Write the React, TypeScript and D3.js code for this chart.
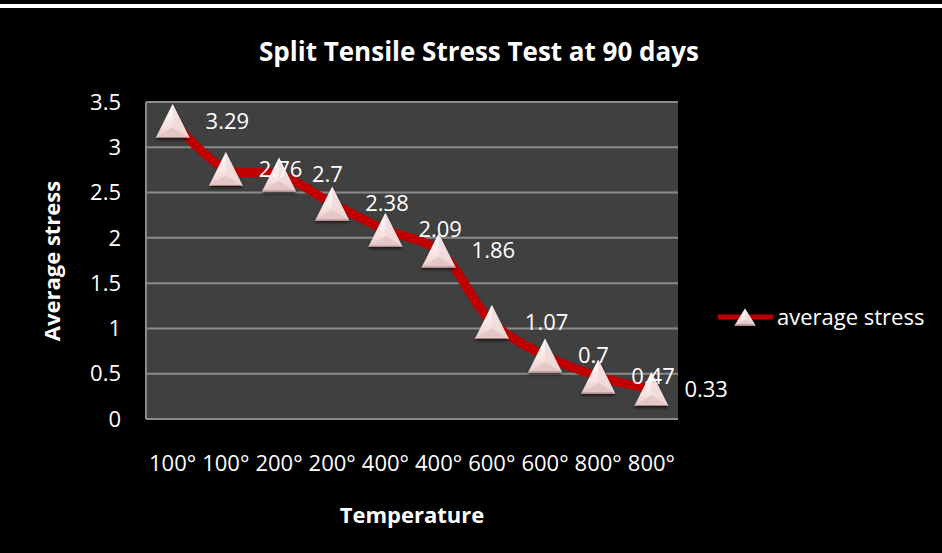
import React from "react";
import * as d3 from "d3";

const categories = ["100°", "100°", "200°", "200°", "400°", "400°", "600°", "600°", "800°", "800°"];
const values = [3.29, 2.76, 2.7, 2.38, 2.09, 1.86, 1.07, 0.7, 0.47, 0.33];
const yTicks = [0, 0.5, 1, 1.5, 2, 2.5, 3, 3.5];
const seriesName = "average stress";
const chartTitle = "Split Tensile Stress Test at 90 days";
const xTitle = "Temperature";
const yTitle = "Average stress";

const W = 942;
const H = 553;
const plot = { left: 146, right: 678, top: 102, bottom: 419 };
const FONT = "'Open Sans', Lato, sans-serif";

function Tri({ cx, cy, w, h }: { cx: number; cy: number; w: number; h: number }) {
  const top = cy - h / 2;
  const bot = cy + h / 2;
  const pts = `${cx},${top} ${cx + w / 2},${bot} ${cx - w / 2},${bot}`;
  const inner = `${cx},${cy + h * 0.18}`;
  return (
    <g filter="url(#shadow)">
      <polygon points={pts} fill="url(#triGrad)" />
      <polygon points={`${cx - w / 2},${bot} ${cx + w / 2},${bot} ${inner}`} fill="#e3c4c4" opacity={0.85} />
      <polygon points={`${cx},${top} ${cx + w / 2},${bot} ${inner}`} fill="#f0d8d8" opacity={0.7} />
      <polygon points={`${cx - w / 2 + 2},${bot - 1} ${cx + w / 2 - 2},${bot - 1} ${cx + w / 2},${bot} ${cx - w / 2},${bot}`} fill="#a88080" />
    </g>
  );
}

export default function App() {
  const x = d3.scaleBand<number>().domain(d3.range(categories.length)).range([plot.left, plot.right]);
  const y = d3.scaleLinear().domain([0, 3.5]).range([plot.bottom, plot.top]);
  const cx = (i: number) => (x(i) as number) + x.bandwidth() / 2;
  const line = d3
    .line<number>()
    .x((_, i) => cx(i))
    .y((d) => y(d))
    .curve(d3.curveCatmullRom.alpha(0.5));
  const pathD = line(values) || "";

  return (
    <div style={{ position: "fixed", left: 0, top: 0 }}>
      <svg width={W} height={H} style={{ display: "block", background: "#000" }}>
        <defs>
          <linearGradient id="triGrad" x1="0" y1="0" x2="0" y2="1">
            <stop offset="0%" stopColor="#ffffff" />
            <stop offset="60%" stopColor="#f8e4e4" />
            <stop offset="100%" stopColor="#e6c9c9" />
          </linearGradient>
          <filter id="shadow" x="-30%" y="-30%" width="160%" height="160%">
            <feDropShadow dx="0" dy="2" stdDeviation="1.5" floodColor="#000" floodOpacity="0.6" />
          </filter>
        </defs>
        <rect x={0} y={0} width={W} height={H} fill="#000" />
        <rect x={0} y={4} width={W} height={4} fill="#fff" />
        <text x={479} y={61} textAnchor="middle" fill="#fff" fontFamily={FONT} fontWeight="bold" fontSize={26}>
          {chartTitle}
        </text>
        <rect x={plot.left} y={plot.top} width={plot.right - plot.left} height={plot.bottom - plot.top} fill="#404040" />
        {yTicks.map((t) => (
          <line key={t} x1={plot.left} x2={plot.right} y1={y(t)} y2={y(t)} stroke="#8a8a8a" strokeWidth={2} />
        ))}
        <line x1={plot.left} x2={plot.left} y1={plot.top} y2={plot.bottom} stroke="#8a8a8a" strokeWidth={2} />
        {yTicks.map((t) => (
          <text key={"l" + t} x={121} y={y(t)} dy="0.35em" textAnchor="end" fill="#fff" fontFamily={FONT} fontSize={22}>
            {t}
          </text>
        ))}
        {categories.map((c, i) => (
          <text key={"c" + i} x={cx(i)} y={471} textAnchor="middle" fill="#fff" fontFamily={FONT} fontSize={22}>
            {c}
          </text>
        ))}
        <text x={(plot.left + plot.right) / 2} y={523} textAnchor="middle" fill="#fff" fontFamily={FONT} fontWeight="bold" fontSize={22}>
          {xTitle}
        </text>
        <text
          transform={`translate(60, 261) rotate(-90)`}
          textAnchor="middle"
          fill="#fff"
          fontFamily={FONT}
          fontWeight="bold"
          fontSize={22}
        >
          {yTitle}
        </text>
        <path d={pathD} fill="none" stroke="#c00000" strokeWidth={9} strokeLinejoin="round" />
        {values.map((v, i) => (
          <Tri key={"t" + i} cx={cx(i)} cy={y(v)} w={34} h={34} />
        ))}
        {values.map((v, i) => (
          <text key={"v" + i} x={cx(i) + 33} y={y(v)} dy="0.35em" fill="#fff" fontFamily={FONT} fontSize={22}>
            {v}
          </text>
        ))}
        <line x1={718} x2={773} y1={317} y2={317} stroke="#c00000" strokeWidth={5} />
        <Tri cx={745} cy={317} w={21} h={17} />
        <text x={777} y={317} dy="0.35em" fill="#fff" fontFamily={FONT} fontSize={22}>
          {seriesName}
        </text>
      </svg>
    </div>
  );
}
